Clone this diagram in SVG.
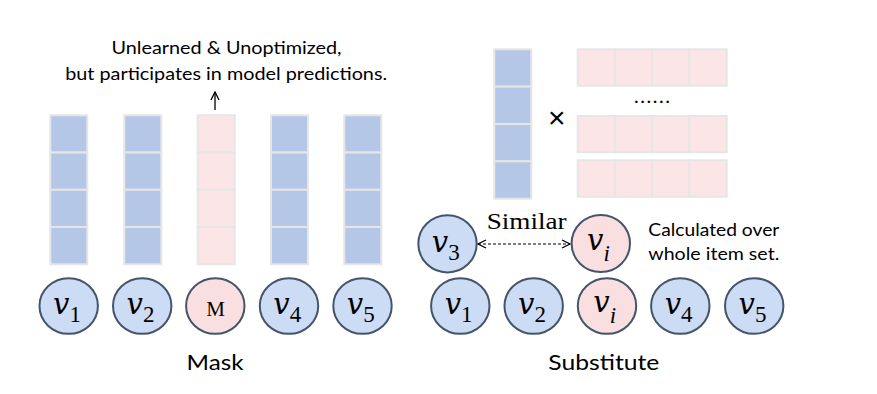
<svg xmlns="http://www.w3.org/2000/svg" width="877" height="394" viewBox="0 0 877 394">
<style>
.cb{fill:#b4c7e7;stroke:#e7e6e6;stroke-width:2}
.cp{fill:#fbe5e7;stroke:#e7e6e6;stroke-width:2}
.nb{fill:#cddcf5;stroke:#44546a;stroke-width:2}
.np{fill:#fadfe0;stroke:#44546a;stroke-width:2}
.t{font-family:Lato,"Liberation Sans",sans-serif;fill:#000}
.v{font-family:"DejaVu Serif",serif;font-style:italic;font-size:29px}
.s{font-family:"Liberation Serif",serif;font-size:23px}
.si{font-family:"Liberation Serif",serif;font-style:italic;font-size:23px}
.m{font-family:"Liberation Serif",serif;font-size:21px}
</style>
<defs>
<marker id="ah" viewBox="0 0 10 10" refX="9" refY="5" markerWidth="10" markerHeight="10" markerUnits="userSpaceOnUse" orient="auto-start-reverse">
<path d="M1,1 L9,5 L1,9" fill="none" stroke="#000" stroke-width="1.3"/>
</marker>
</defs>
<g id="stack1">
<rect class="cb" x="50.3" y="115.3" width="37" height="37.25"/>
<rect class="cb" x="50.3" y="152.55" width="37" height="37.25"/>
<rect class="cb" x="50.3" y="189.8" width="37" height="37.25"/>
<rect class="cb" x="50.3" y="227.05" width="37" height="37.25"/>
</g>
<g id="stack2">
<rect class="cb" x="124.3" y="115.3" width="37" height="37.25"/>
<rect class="cb" x="124.3" y="152.55" width="37" height="37.25"/>
<rect class="cb" x="124.3" y="189.8" width="37" height="37.25"/>
<rect class="cb" x="124.3" y="227.05" width="37" height="37.25"/>
</g>
<g id="stack3">
<rect class="cp" x="197.7" y="115.3" width="37" height="37.25"/>
<rect class="cp" x="197.7" y="152.55" width="37" height="37.25"/>
<rect class="cp" x="197.7" y="189.8" width="37" height="37.25"/>
<rect class="cp" x="197.7" y="227.05" width="37" height="37.25"/>
</g>
<g id="stack4">
<rect class="cb" x="271" y="115.3" width="37" height="37.25"/>
<rect class="cb" x="271" y="152.55" width="37" height="37.25"/>
<rect class="cb" x="271" y="189.8" width="37" height="37.25"/>
<rect class="cb" x="271" y="227.05" width="37" height="37.25"/>
</g>
<g id="stack5">
<rect class="cb" x="344.3" y="115.3" width="37" height="37.25"/>
<rect class="cb" x="344.3" y="152.55" width="37" height="37.25"/>
<rect class="cb" x="344.3" y="189.8" width="37" height="37.25"/>
<rect class="cb" x="344.3" y="227.05" width="37" height="37.25"/>
</g>
<g id="note">
<text class="t" x="226.5" y="54" font-size="18" text-anchor="middle" textLength="230" lengthAdjust="spacingAndGlyphs">Unlearned &amp; Unoptimized,</text>
<text class="t" x="226.2" y="80" font-size="18" text-anchor="middle" textLength="322" lengthAdjust="spacingAndGlyphs">but participates in model predictions.</text>
</g>
<g id="left-nodes">
<g id="m1"><ellipse class="nb" cx="68.7" cy="306" rx="29.2" ry="27.8"/><text x="67" y="314" text-anchor="middle"><tspan class="v">v</tspan><tspan class="s" dy="8">1</tspan></text></g>
<g id="m2"><ellipse class="nb" cx="142.2" cy="306" rx="29.2" ry="27.8"/><text x="140.5" y="314" text-anchor="middle"><tspan class="v">v</tspan><tspan class="s" dy="8">2</tspan></text></g>
<g id="mM"><ellipse class="np" cx="215.3" cy="306" rx="29.2" ry="27.8"/><text class="m" x="215.5" y="316" text-anchor="middle">M</text></g>
<g id="m4"><ellipse class="nb" cx="289" cy="306" rx="29.2" ry="27.8"/><text x="287.3" y="314" text-anchor="middle"><tspan class="v">v</tspan><tspan class="s" dy="8">4</tspan></text></g>
<g id="m5"><ellipse class="nb" cx="362.5" cy="306" rx="29.2" ry="27.8"/><text x="360.8" y="314" text-anchor="middle"><tspan class="v">v</tspan><tspan class="s" dy="8">5</tspan></text></g>
</g>
<text class="t" x="215" y="370" font-size="22" text-anchor="middle" textLength="57" lengthAdjust="spacingAndGlyphs">Mask</text>
<g id="vec">
<rect class="cb" x="494.3" y="49.3" width="37" height="37.35"/>
<rect class="cb" x="494.3" y="86.65" width="37" height="37.35"/>
<rect class="cb" x="494.3" y="124" width="37" height="37.35"/>
<rect class="cb" x="494.3" y="161.35" width="37" height="37.35"/>
</g>
<text x="556.7" y="128" font-family="'Liberation Sans',sans-serif" font-size="30" text-anchor="middle">×</text>
<g id="matrix">
<rect class="cp" x="577.7" y="49.3" width="37.25" height="36.4"/>
<rect class="cp" x="614.95" y="49.3" width="37.25" height="36.4"/>
<rect class="cp" x="652.2" y="49.3" width="37.25" height="36.4"/>
<rect class="cp" x="689.45" y="49.3" width="37.25" height="36.4"/>
<rect class="cp" x="577.7" y="116" width="37.25" height="36.3"/>
<rect class="cp" x="614.95" y="116" width="37.25" height="36.3"/>
<rect class="cp" x="652.2" y="116" width="37.25" height="36.3"/>
<rect class="cp" x="689.45" y="116" width="37.25" height="36.3"/>
<rect class="cp" x="577.7" y="160.3" width="37.25" height="36.4"/>
<rect class="cp" x="614.95" y="160.3" width="37.25" height="36.4"/>
<rect class="cp" x="652.2" y="160.3" width="37.25" height="36.4"/>
<rect class="cp" x="689.45" y="160.3" width="37.25" height="36.4"/>
<text class="t" x="652" y="103" font-size="20" text-anchor="middle" textLength="36" lengthAdjust="spacing">......</text>
</g>
<g id="connectors">
<line x1="215" y1="110" x2="215" y2="92" stroke="#000" stroke-width="1.3" marker-end="url(#ah)"/>
<line x1="478" y1="244" x2="570" y2="244" stroke="#000" stroke-width="1.1" stroke-dasharray="3,2" marker-start="url(#ah)" marker-end="url(#ah)"/>
</g>
<text x="526.7" y="229.3" font-family="'Liberation Serif',serif" font-size="23" text-anchor="middle" textLength="80" lengthAdjust="spacingAndGlyphs">Similar</text>
<g id="v3"><ellipse class="nb" cx="447.5" cy="243.8" rx="29.2" ry="28.6"/><text x="445.8" y="251.5" text-anchor="middle"><tspan class="v">v</tspan><tspan class="s" dy="8">3</tspan></text></g>
<g id="vi"><ellipse class="np" cx="600.8" cy="243.5" rx="29.2" ry="28.6"/><text x="598.5" y="250" text-anchor="middle"><tspan class="v">v</tspan><tspan class="si" dy="11">i</tspan></text></g>
<g id="calc">
<text class="t" x="713.8" y="236" font-size="18" text-anchor="middle" textLength="131" lengthAdjust="spacingAndGlyphs">Calculated over</text>
<text class="t" x="713.8" y="260" font-size="18" text-anchor="middle" textLength="131" lengthAdjust="spacingAndGlyphs">whole item set.</text>
</g>
<g id="right-nodes">
<g id="s1"><ellipse class="nb" cx="460.3" cy="306" rx="29.2" ry="27.8"/><text x="458.6" y="314" text-anchor="middle"><tspan class="v">v</tspan><tspan class="s" dy="8">1</tspan></text></g>
<g id="s2"><ellipse class="nb" cx="533.7" cy="306" rx="29.2" ry="27.8"/><text x="532" y="314" text-anchor="middle"><tspan class="v">v</tspan><tspan class="s" dy="8">2</tspan></text></g>
<g id="si"><ellipse class="np" cx="607" cy="306" rx="29.2" ry="27.8"/><text x="604.7" y="312" text-anchor="middle"><tspan class="v">v</tspan><tspan class="si" dy="11">i</tspan></text></g>
<g id="s4"><ellipse class="nb" cx="680.3" cy="306" rx="29.2" ry="27.8"/><text x="678.6" y="314" text-anchor="middle"><tspan class="v">v</tspan><tspan class="s" dy="8">4</tspan></text></g>
<g id="s5"><ellipse class="nb" cx="754.2" cy="306" rx="29.2" ry="27.8"/><text x="752.5" y="314" text-anchor="middle"><tspan class="v">v</tspan><tspan class="s" dy="8">5</tspan></text></g>
</g>
<text class="t" x="603.8" y="370" font-size="22" text-anchor="middle" textLength="111" lengthAdjust="spacingAndGlyphs">Substitute</text>
</svg>
